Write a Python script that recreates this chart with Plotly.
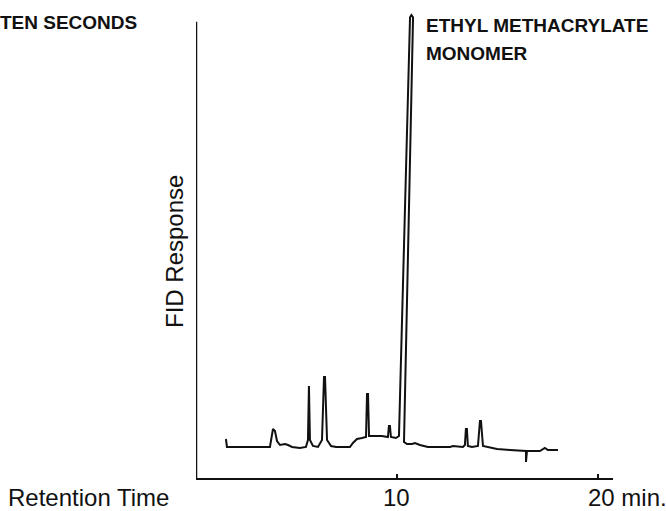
import plotly.graph_objects as go

# Retention time (min) and FID response (arbitrary units, 0-100 = axis height)
time_min = [1.49, 1.54, 3.68, 3.83, 3.93, 4.03, 4.18, 4.43, 4.58, 4.78, 5.17, 5.47, 5.57, 5.62, 5.67,
            5.82, 6.07, 6.27, 6.37, 6.42, 6.52, 6.72, 6.97, 7.66, 7.81, 8.01, 8.26, 8.46, 8.51, 8.56,
            8.61, 8.91, 9.25, 9.55, 9.60, 9.65, 9.70, 9.95, 10.10, 10.65, 10.72, 10.80, 10.35, 10.50,
            10.75, 10.90, 11.14, 11.54, 12.14, 12.64, 12.79, 13.28, 13.38, 13.43, 13.48, 13.53, 13.73,
            14.03, 14.13, 14.18, 14.28, 14.53, 14.98, 15.62, 16.27, 16.42, 16.42, 16.47, 17.11, 17.36,
            17.51, 18.01]
response = [8.55, 6.80, 6.80, 10.75, 10.31, 8.11, 7.24, 7.46, 7.24, 6.80, 6.58, 6.80, 8.33, 20.18, 8.33,
            7.02, 6.80, 8.33, 22.15, 22.15, 8.33, 7.02, 6.80, 6.80, 7.68, 8.55, 8.77, 8.99, 18.42, 18.42,
            9.21, 9.21, 9.21, 8.99, 11.40, 11.40, 8.99, 8.77, 9.21, 101.0, 101.5, 101.0, 7.89, 7.46,
            7.46, 7.68, 7.24, 6.80, 6.80, 6.80, 7.02, 6.80, 7.24, 10.75, 10.75, 7.02, 6.80,
            7.02, 12.50, 12.50, 7.02, 6.80, 6.36, 6.14, 5.92, 5.92, 3.51, 5.92, 5.92, 6.58,
            6.14, 6.14]

x_ticks = [10, 20]
x_tick_labels = ["10", "20 min."]

fig = go.Figure()
fig.add_trace(go.Scatter(x=time_min, y=response, mode="lines",
                         line=dict(color="#111111", width=2), hoverinfo="skip"))

W, H = 666, 511
L, R, T, B = 196, 53, 10, 33
fig.update_layout(
    width=W, height=H,
    margin=dict(l=L, r=R, t=T, b=B),
    paper_bgcolor="white", plot_bgcolor="white",
    showlegend=False,
    xaxis=dict(range=[0, 20.75], showgrid=False, zeroline=False, showline=True,
               linecolor="#111111", linewidth=2, ticks="inside", ticklen=4,
               tickcolor="#111111", tickwidth=1.5, tickvals=x_ticks,
               showticklabels=False),
    yaxis=dict(range=[0, 102.6], showgrid=False, zeroline=False, showline=False,
               showticklabels=False, ticks=""),
)

# y-axis line (stops at the top of the response scale)
fig.add_shape(type="line", xref="x", yref="y", x0=0, x1=0, y0=0, y1=100,
              line=dict(color="#111111", width=2.5))

def px(xp):
    return (xp - L) / (W - L - R)

def py(yp):
    return (H - B - yp) / (H - T - B)

sans = "Liberation Sans, Arial, sans-serif"

for txt, xp, anchor, xr in [(x_tick_labels[0], 10, "center", "x"),
                            (x_tick_labels[1], px(587), "left", "paper"),
                            ("Retention Time", px(7), "left", "paper")]:
    fig.add_annotation(x=xp, xref=xr, y=py(497), yref="paper", text=txt,
                       showarrow=False, xanchor=anchor, yanchor="middle", borderpad=0,
                       font=dict(family=sans, size=24, color="#111111"))

fig.add_annotation(x=px(175), xref="paper", y=py(252), yref="paper", text="FID Response",
                   showarrow=False, xanchor="center", yanchor="middle", textangle=-90,
                   font=dict(family=sans, size=24, color="#111111"))

fig.add_annotation(x=px(-2), xref="paper", y=py(22), yref="paper", text="<b>TEN SECONDS</b>",
                   showarrow=False, xanchor="left", yanchor="middle",
                   font=dict(family=sans, size=19, color="#111111"))
fig.add_annotation(x=px(424), xref="paper", y=py(25), yref="paper",
                   text="<b>ETHYL METHACRYLATE</b>",
                   showarrow=False, xanchor="left", yanchor="middle", align="left",
                   font=dict(family=sans, size=19, color="#111111"))
fig.add_annotation(x=px(424), xref="paper", y=py(53), yref="paper",
                   text="<b>MONOMER</b>",
                   showarrow=False, xanchor="left", yanchor="middle", align="left",
                   font=dict(family=sans, size=19, color="#111111"))

fig.write_html("out.html", config={"displayModeBar": False},
               post_script="document.body.style.margin='0';document.body.style.overflow='hidden';")
